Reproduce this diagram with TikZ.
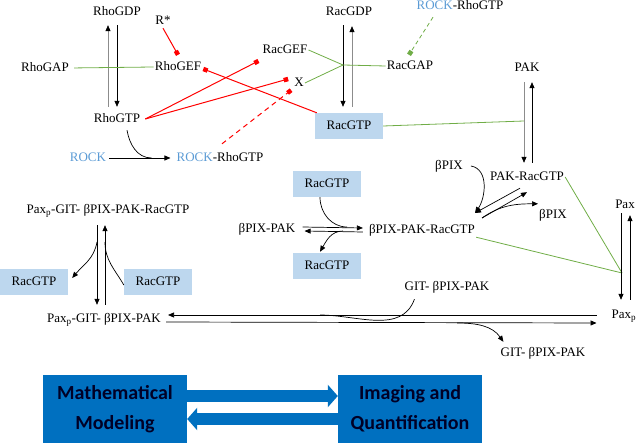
\documentclass[tikz,border=0pt]{standalone}
\usepackage{fontspec}
\setmainfont{Liberation Serif}
\newfontfamily\calibrifont{Carlito}
\usetikzlibrary{arrows.meta,positioning,calc}
\definecolor{racfill}{HTML}{BDD7EE}
\definecolor{rockblue}{HTML}{5B9BD5}
\definecolor{linkgreen}{HTML}{70AD47}
\definecolor{inhred}{HTML}{FF0000}
\definecolor{modelblue}{HTML}{0070C0}

\begin{document}
\begin{tikzpicture}[x=1pt,y=1pt,
  species/.style={font=\fontsize{13}{15}\selectfont,inner sep=1pt,text height=10pt,text depth=2pt},
  racbox/.style={species,fill=racfill,minimum width=68pt,minimum height=26pt},
  rxnline/.style={line width=0.7pt},
  rxn/.style={rxnline,-{Triangle[length=6pt,width=5pt]}},
  greyrxn/.style={rxnline,draw=black!45,-{Triangle[length=6pt,width=5pt,black]}},
  link/.style={linkgreen,line width=0.8pt},
  inhib/.style={inhred,line width=1pt,-{Square[length=4.5pt,width=4.5pt]}},
  bigbox/.style={fill=modelblue,minimum width=144pt,minimum height=68pt,inner sep=0pt,align=center,text=black!85!blue,font=\calibrifont\bfseries\fontsize{20}{30}\selectfont},
  bigarrow/.style={modelblue,line width=12pt,-{Triangle[length=10pt,width=22pt]}}]

  \useasboundingbox (0,0) rectangle (637,-443);

  % Rho cycle
  \node[species] (rhogdp) at (117,-12) {RhoGDP};
  \node[species] (rhogtp) at (117,-119) {RhoGTP};
  \node[species] (rhogap) at (45,-68) {RhoGAP};
  \node[species] (rhogef) at (178,-67) {RhoGEF};
  \node[species] (rstar) at (163,-21) {R*};
  \node[species] (racgef) at (285,-50) {RacGEF};
  \node[species] (xnode) at (299,-83) {X};
  \node[species] (rock) at (88,-158) {\textcolor{rockblue}{ROCK}};
  \node[species] (rockrho) at (220,-158) {\textcolor{rockblue}{ROCK}-RhoGTP};

  \draw[rxn] ([yshift=-6pt]rhogdp.south) -- ([yshift=5pt]rhogtp.north);
  \draw[greyrxn] ([xshift=-9pt,yshift=5pt]rhogtp.north) -- ([xshift=-9pt,yshift=-6pt]rhogdp.south);
  \draw[link,shorten <=4pt] (rhogap.east) -- (rhogef.west);
  \draw[inhib] (rstar.south) -- ([yshift=5pt]rhogef.north);
  \draw[rxn,shorten <=2pt,shorten >=5pt] (rock.east) -- (rockrho.west);
  \coordinate (rockjoin) at ($(rock.east)!0.65!(rockrho.west)$);
  \draw[rxnline] ([xshift=10pt,yshift=-4pt]rhogtp.south) to[out=-80,in=180] (rockjoin);

  % Rac cycle
  \node[species] (racgdp) at (349,-12) {RacGDP};
  \node[racbox] (racgtp1) at (349,-126) {RacGTP};
  \node[species] (racgap) at (410,-66) {RacGAP};
  \node[species] (rockrhotop) at (460,-6) {\textcolor{rockblue}{ROCK}-RhoGTP};

  \draw[rxn] ([xshift=-6pt,yshift=-6pt]racgdp.south) -- ([xshift=-6pt,yshift=6pt]racgtp1.north);
  \draw[greyrxn] ([xshift=3pt,yshift=6pt]racgtp1.north) -- ([xshift=3pt,yshift=-7pt]racgdp.south);
  \coordinate (racjoin) at (343,-65);
  \draw[link] (racgef.east) -- (racjoin);
  \draw[link] (xnode.east) -- (racjoin);
  \draw[link] (racjoin) -- (racgap.west);
  \draw[link,dash pattern=on 4pt off 3pt,-{Square[length=4.5pt,width=4.5pt]}] ([xshift=-27pt,yshift=-4pt]rockrhotop.south) -- ([xshift=-1pt,yshift=4pt]racgap.north);

  % Rho-Rac crosstalk
  \draw[inhib] ([xshift=4pt]rhogtp.east) -- ([xshift=-3pt,yshift=-11pt]racgef.west);
  \draw[inhib] ([xshift=4pt]rhogtp.east) -- ([xshift=-5pt,yshift=4pt]xnode.west);
  \draw[inhib,dash pattern=on 5pt off 4pt] ([xshift=2pt,yshift=7pt]rockrho.north) -- ([xshift=-2pt]xnode.south west);
  \draw[inhred,line width=1pt,{Square[length=4.5pt,width=4.5pt]}-] ([xshift=1pt,yshift=-2pt]rhogef.east) -- ([xshift=2pt]racgtp1.north west);

  % PAK
  \node[species] (pak) at (527,-68) {PAK};
  \node[species] (pakrac) at (527,-177) {PAK-RacGTP};
  \node[species] (bpixa) at (449,-166) {βPIX};
  \node[species] (bpixb) at (553,-215) {βPIX};
  \node[species] (bpixpakrac) at (422,-230) {βPIX-PAK-RacGTP};
  \node[species] (bpixpak) at (267,-229) {βPIX-PAK};
  \node[racbox] (racgtp2) at (327,-184) {RacGTP};
  \node[racbox] (racgtp3) at (327,-266) {RacGTP};

  \coordinate (pakjoin) at (524,-121);
  \draw[link] (racgtp1.east) -- (pakjoin);
  \draw[greyrxn] ([xshift=-3pt,yshift=-7pt]pak.south) -- ([xshift=-3pt,yshift=7pt]pakrac.north);
  \draw[rxn] ([xshift=5pt,yshift=7pt]pakrac.north) -- ([xshift=5pt,yshift=-7pt]pak.south);

  \coordinate (pixin) at (475,-213);
  \coordinate (pixout) at (482,-218);
  \draw[rxn] ([xshift=7pt]bpixa.east) to[out=-10,in=55] (pixin);
  \draw[rxn] ([xshift=-7pt,yshift=-4pt]pakrac.south) -- (pixin);
  \draw[rxn] (pixout) -- ([yshift=-8pt]pakrac.south);
  \draw[rxn] (pixout) to[out=35,in=180] ([yshift=4pt]bpixb.north west);

  \draw[rxn] ([xshift=6pt,yshift=2pt]bpixpak.east) -- ([xshift=-5pt,yshift=2pt]bpixpakrac.west);
  \draw[rxn] ([xshift=-5pt,yshift=-2pt]bpixpakrac.west) -- ([xshift=8pt,yshift=-2pt]bpixpak.east);
  \coordinate (bindjoin) at (347,-227);
  \coordinate (releasejoin) at (343,-231);
  \draw[rxnline] ([xshift=-7pt]racgtp2.south) to[out=-90,in=180] (bindjoin);
  \draw[rxn] (releasejoin) to[out=180,in=60] ([xshift=-7pt,yshift=1pt]racgtp3.north);

  % Paxillin
  \node[species] (pax) at (625,-205) {Pax};
  \node[species] (paxp) at (624,-315) {Pax\textsubscript{p}};
  \coordinate (paxjoin) at (622,-273);
  \draw[link] (pakrac.east) -- (paxjoin);
  \draw[link] (bpixpakrac.south east) -- (paxjoin);
  \draw[rxn] ([xshift=-4pt,yshift=-1pt]pax.south) -- ([xshift=-3pt,yshift=8pt]paxp.north);
  \draw[rxn] ([xshift=6pt,yshift=8pt]paxp.north) -- ([xshift=5pt,yshift=-3pt]pax.south);

  % GIT complexes
  \node[species] (complexa) at (108,-210) {Pax\textsubscript{p}-GIT- βPIX-PAK-RacGTP};
  \node[species] (complexb) at (104,-319) {Pax\textsubscript{p}-GIT- βPIX-PAK};
  \node[racbox] (racgtp4) at (34,-282) {RacGTP};
  \node[racbox] (racgtp5) at (158,-282) {RacGTP};
  \node[species] (gita) at (447,-287) {GIT- βPIX-PAK};
  \node[species] (gitb) at (543,-353) {GIT- βPIX-PAK};

  \draw[rxn] ([xshift=-11pt,yshift=-8pt]complexa.south) -- ([xshift=-7pt,yshift=7pt]complexb.north);
  \draw[rxn] ([xshift=1pt,yshift=7pt]complexb.north) -- ([xshift=-3pt,yshift=-8pt]complexa.south);
  \coordinate (dnjoin) at (97,-242);
  \coordinate (upjoin) at (105,-242);
  \draw[rxn] (dnjoin) to[out=-100,in=50] ([xshift=4pt,yshift=4pt]racgtp4.east);
  \draw[rxnline] ([yshift=-3pt]racgtp5.west) to[out=120,in=-90] (upjoin);

  \draw[rxn] ([xshift=-14pt]paxp.west) -- ([xshift=6pt,yshift=4pt]complexb.east);
  \draw[rxn] ([xshift=4pt,yshift=-3pt]complexb.east) -- ([xshift=-14pt,yshift=-8pt]paxp.west);
  \coordinate (gitjoin) at (320,-315);
  \coordinate (gitsplit) at (457,-323);
  \draw[rxnline] ([xshift=11pt,yshift=-5pt]gita.south west) to[out=-110,in=0] (gitjoin);
  \draw[rxn] (gitsplit) to[out=0,in=125] ([xshift=4pt,yshift=4pt]gitb.north west);

  % Modeling loop
  \node[bigbox] (model) at (115,-409) {Mathematical\\Modeling};
  \node[bigbox] (imaging) at (410,-409) {Imaging and\\Quantification};
  \draw[bigarrow] ([yshift=13pt]model.east) -- ([yshift=13pt]imaging.west);
  \draw[bigarrow] ([yshift=-10pt]imaging.west) -- ([yshift=-10pt]model.east);

\end{tikzpicture}
\end{document}
